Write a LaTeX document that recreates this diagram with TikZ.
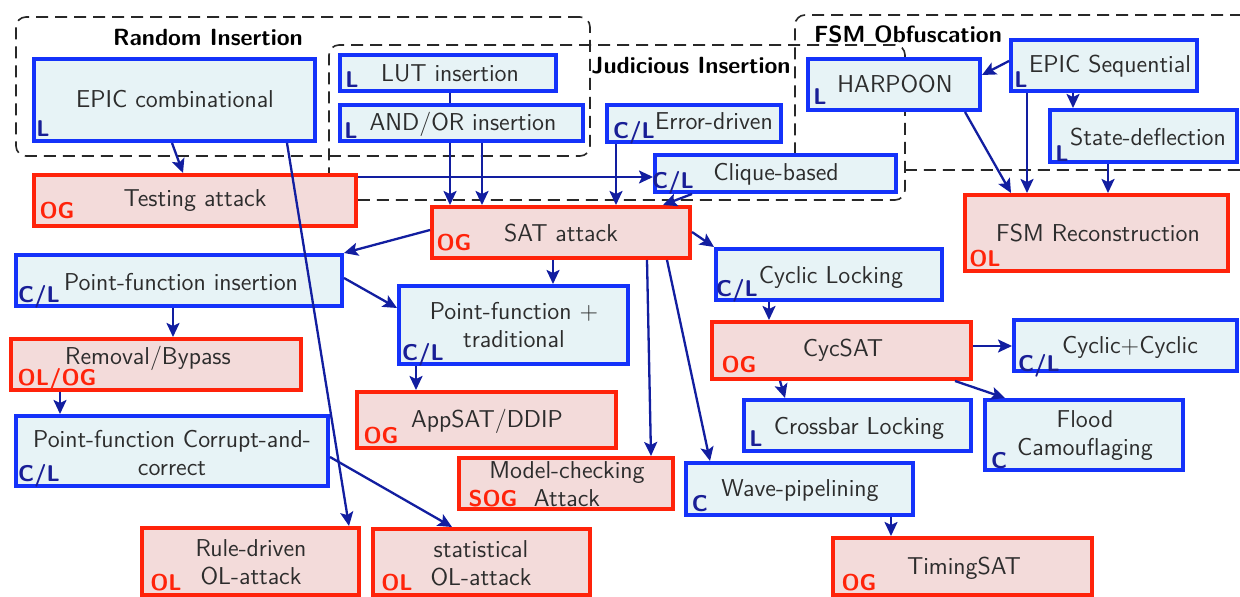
\documentclass[tikz,border=0pt]{standalone}
\usetikzlibrary{arrows.meta,fit}

\definecolor{boxblue}{RGB}{20,50,250}
\definecolor{fillblue}{RGB}{231,243,246}
\definecolor{boxred}{RGB}{255,35,10}
\definecolor{fillred}{RGB}{243,219,218}
\definecolor{arrowblue}{RGB}{18,30,160}
\definecolor{tagblue}{RGB}{25,30,150}
\definecolor{txtgray}{RGB}{45,45,45}
\definecolor{dashgray}{RGB}{40,40,40}

\begin{document}
\begin{tikzpicture}[x=0.5pt,y=-0.5pt,
  lockbox/.style={draw=boxblue, fill=fillblue, line width=2pt, inner sep=0pt, rectangle},
  atkbox/.style={draw=boxred, fill=fillred, line width=2pt, inner sep=0pt, rectangle},
  grp/.style={draw=dashgray, line width=0.8pt, dash pattern=on 6pt off 3.5pt,
              rounded corners=5pt, inner sep=0pt, rectangle},
  lbl/.style={font=\fontsize{12.2}{14}\selectfont\sffamily, text=txtgray, align=center, inner sep=0pt},
  grptitle/.style={font=\fontsize{11.7}{14}\selectfont\sffamily\bfseries, text=black, inner sep=0pt},
  ltag/.style={font=\fontsize{11.4}{12}\selectfont\sffamily\bfseries, text=tagblue, inner sep=0pt, text depth=0pt},
  atag/.style={font=\fontsize{11.4}{12}\selectfont\sffamily\bfseries, text=boxred, inner sep=0pt, text depth=0pt},
  link/.style={draw=arrowblue, line width=1.15pt, -{Stealth[length=7pt,width=6.5pt,inset=1.5pt]}},
  plainlink/.style={draw=arrowblue, line width=1.15pt},
]
\useasboundingbox (0,0) rectangle (1240,597);
\fill[white] (0,0) rectangle (1240,597);

% ---- dashed groups
\node[grp, fit={(16,17) (590,156)}] (rndgrp) {};
\node[grp, fit={(329,45) (905,200)}] (judgrp) {};
\node[grp, fit={(795,15) (1252,170)}] (fsmgrp) {};
\node[grptitle] (rndtitle) at (208,38) {Random Insertion};
\node[grptitle] (judtitle) at (691,66) {Judicious Insertion};
\node[grptitle] (fsmtitle) at (908,34) {FSM Obfuscation};

% ---- locking techniques
\node[lockbox, fit={(34,59) (315,141)}]    (epicc)  {};
\node[lockbox, fit={(340,55) (556,91)}]    (lut)    {};
\node[lockbox, fit={(340,105) (583,141)}]  (andor)  {};
\node[lockbox, fit={(607,105) (781,142)}]  (errd)   {};
\node[lockbox, fit={(655,155) (896,192)}]  (clique) {};
\node[lockbox, fit={(808,59) (980,110)}]   (harpoon){};
\node[lockbox, fit={(1011,40) (1197,91)}]  (epics)  {};
\node[lockbox, fit={(1050,110) (1237,162)}](stdefl) {};
\node[lockbox, fit={(16,255) (342,306)}]   (pfins)  {};
\node[lockbox, fit={(16,416) (328,486)}]   (corr)   {};
\node[lockbox, fit={(399,286) (628,364)}]  (pftrad) {};
\node[lockbox, fit={(716,249) (942,300)}]  (cyclk)  {};
\node[lockbox, fit={(1014,320) (1237,371)}](cyccyc) {};
\node[lockbox, fit={(744,400) (971,451)}]  (xbar)   {};
\node[lockbox, fit={(985,400) (1183,470)}] (flood)  {};
\node[lockbox, fit={(686,463) (913,515)}]  (wave)   {};

% ---- attacks
\node[atkbox, fit={(34,175) (356,226)}]    (test)   {};
\node[atkbox, fit={(432,207) (690,258)}]   (sat)    {};
\node[atkbox, fit={(965,195) (1228,271)}]  (fsmr)   {};
\node[atkbox, fit={(11,339) (301,390)}]    (remv)   {};
\node[atkbox, fit={(142,528) (359,595)}]   (rule)   {};
\node[atkbox, fit={(373,529) (590,595)}]   (stat)   {};
\node[atkbox, fit={(357,392) (616,448)}]   (appsat) {};
\node[atkbox, fit={(459,458) (673,509)}]   (mchk)   {};
\node[atkbox, fit={(712,322) (971,379)}]   (cycsat) {};
\node[atkbox, fit={(833,538) (1092,595)}]  (tsat)   {};

% ---- box texts
\node[lbl] (epicc-t)  at (175,99)  {EPIC combinational};
\node[lbl] (test-t)   at (195,201) {Testing attack};
\node[lbl] (lut-t)    at (450,73)  {LUT insertion};
\node[lbl] (andor-t)  at (463,124) {AND/OR insertion};
\node[lbl] (errd-t)   at (714,121) {Error-driven};
\node[lbl] (clique-t) at (776,174) {Clique-based};
\node[lbl] (sat-t)    at (561,233) {SAT attack};
\node[lbl] (harpoon-t)at (895,84)  {HARPOON};
\node[lbl] (epics-t)  at (1110,66) {EPIC Sequential};
\node[lbl] (stdefl-t) at (1148,137){State-deflection};
\node[lbl] (fsmr-t)   at (1098,233){FSM Reconstruction};
\node[lbl] (pfins-t)  at (181,282) {Point-function insertion};
\node[lbl] (remv-t)   at (148,358) {Removal/Bypass};
\node[lbl] (corr-t)   at (172,453) {Point-function Corrupt-and-\\correct};
\node[lbl] (rule-t)   at (251,562) {Rule-driven\\OL-attack};
\node[lbl] (stat-t)   at (481,563) {statistical\\OL-attack};
\node[lbl] (pftrad-t) at (514,325) {Point-function +\\traditional};
\node[lbl] (appsat-t) at (487,421) {AppSAT/DDIP};
\node[lbl] (mchk-t)   at (567,484) {Model-checking\\Attack};
\node[lbl] (cyclk-t)  at (831,277) {Cyclic Locking};
\node[lbl] (cycsat-t) at (843,350) {CycSAT};
\node[lbl] (cyccyc-t) at (1130,347){Cyclic+Cyclic};
\node[lbl] (xbar-t)   at (859,428) {Crossbar Locking};
\node[lbl] (flood-t)  at (1085,436){Flood\\Camouflaging};
\node[lbl] (wave-t)   at (800,491) {Wave-pipelining};
\node[lbl] (tsat-t)   at (964,568) {TimingSAT};

% ---- threat-model tags
\node[ltag] (epicc-g)  at (43,129)  {L};
\node[atag] (test-g)   at (57,210)  {OG};
\node[ltag] (lut-g)    at (352,80)  {L};
\node[ltag] (andor-g)  at (351,131) {L};
\node[ltag] (errd-g)   at (634,130) {C/L};
\node[ltag] (clique-g) at (673,180) {C/L};
\node[atag] (sat-g)    at (454,242) {OG};
\node[ltag] (harpoon-g)at (820,97)  {L};
\node[ltag] (epics-g)  at (1021,80) {L};
\node[ltag] (stdefl-g) at (1062,154){L};
\node[atag] (fsmr-g)   at (985,258) {OL};
\node[ltag] (pfins-g)  at (39,294)  {C/L};
\node[atag] (remv-g)   at (57,377)  {OL/OG};
\node[ltag] (corr-g)   at (39,473)  {C/L};
\node[atag] (rule-g)   at (166,582) {OL};
\node[atag] (stat-g)   at (397,582) {OL};
\node[ltag] (pftrad-g) at (423,352) {C/L};
\node[atag] (appsat-g) at (381,435) {OG};
\node[atag] (mchk-g)   at (493,498) {SOG};
\node[ltag] (cyclk-g)  at (737,288) {C/L};
\node[atag] (cycsat-g) at (739,364) {OG};
\node[ltag] (cyccyc-g) at (1039,363){C/L};
\node[ltag] (xbar-g)   at (756,439) {L};
\node[ltag] (flood-g)  at (999,460) {C};
\node[ltag] (wave-g)   at (700,503) {C};
\node[atag] (tsat-g)   at (859,582) {OG};

% ---- connectors
\draw[link] (epicc.south -| 172,0) -- (test.north -| 183,0);
\draw[link] (epicc.south -| 287,0) -- (rule.north -| 349,0);
\draw[link] (test.east |- 0,177) -- (clique.west |- 0,177);
\draw[plainlink] (lut.south -| 450,0) -- (andor.north -| 450,0);
\draw[link] (andor.south -| 450,0) -- (sat.north -| 450,0);
\draw[link] (andor.south -| 482,0) -- (sat.north -| 482,0);
\draw[link] (errd.south -| 616,0) -- (sat.north -| 616,0);
\draw[link] (clique.south -| 692,0) -- (sat.north -| 663,0);
\draw[link] (sat.west |- 0,230) -- (pfins.north east);
\draw[link] (pfins.east |- 0,278) -- (pftrad.west |- 0,308);
\draw[link] (sat.south -| 553,0) -- (pftrad.north -| 553,0);
\draw[link] (sat.south -| 647,0) -- (mchk.north -| 651,0);
\draw[link] (sat.south -| 667,0) -- (wave.north -| 710,0);
\draw[link] (sat.east |- 0,232) -- (cyclk.north west);
\draw[link] (pfins.south -| 173,0) -- (remv.north -| 173,0);
\draw[link] (remv.south -| 60,0) -- (corr.north -| 60,0);
\draw[link] (corr.east |- 0,457) -- (stat.north -| 452,0);
\draw[link] (pftrad.south -| 416,0) -- (appsat.north -| 416,0);
\draw[link] (cyclk.south -| 769,0) -- (cycsat.north -| 769,0);
\draw[link] (cycsat.east |- 0,346) -- (cyccyc.west |- 0,346);
\draw[link] (cycsat.south -| 780,0) -- (xbar.north -| 785,0);
\draw[link] (cycsat.south -| 955,0) -- (flood.north -| 1005,0);
\draw[link] (wave.south -| 891,0) -- (tsat.north -| 891,0);
\draw[link] (epics.west |- 0,61) -- (harpoon.east |- 0,75);
\draw[link] (harpoon.south -| 965,0) -- (fsmr.north -| 1011,0);
\draw[link] (epics.south -| 1027,0) -- (fsmr.north -| 1027,0);
\draw[link] (epics.south -| 1073,0) -- (stdefl.north -| 1073,0);
\draw[link] (stdefl.south -| 1108,0) -- (fsmr.north -| 1108,0);
\end{tikzpicture}
\end{document}
